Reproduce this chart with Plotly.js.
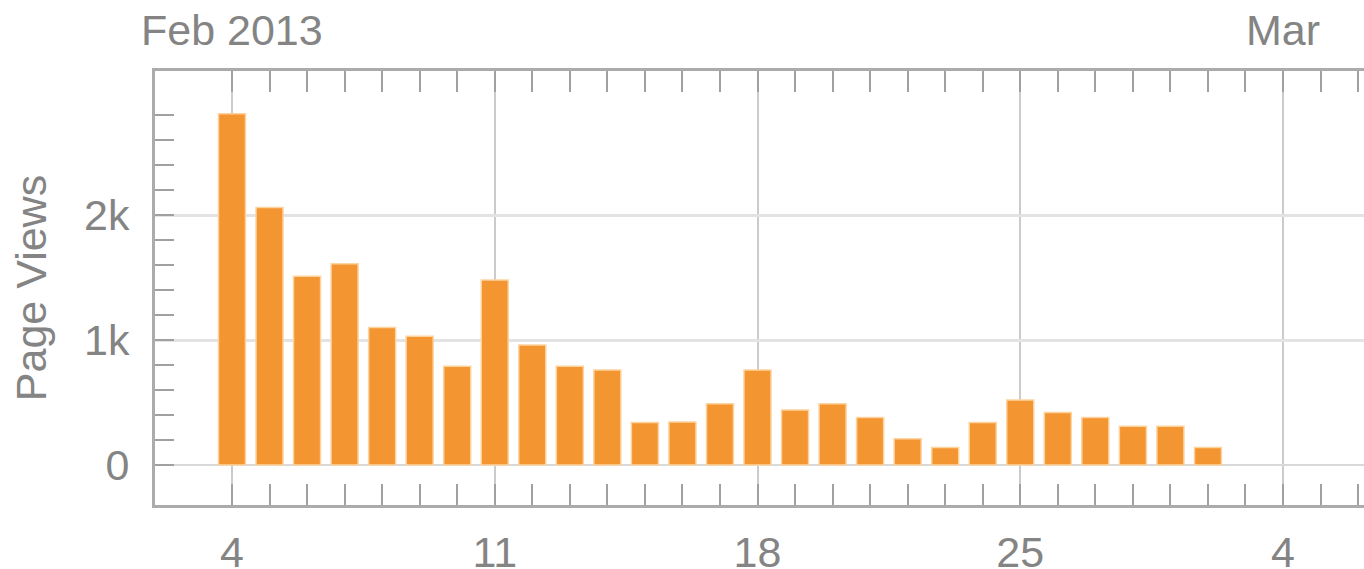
<!DOCTYPE html>
<html>
<head>
<meta charset="utf-8">
<script src="https://cdn.plot.ly/plotly-3.0.1.min.js"></script>
<style>
html, body { margin: 0; padding: 0; overflow: hidden; background: #ffffff; }
#chart { width: 1400px; height: 569px; }
</style>
</head>
<body>
<div id="chart"></div>
<script>
// Data
const dates = [
  '2013-02-04','2013-02-05','2013-02-06','2013-02-07','2013-02-08','2013-02-09','2013-02-10',
  '2013-02-11','2013-02-12','2013-02-13','2013-02-14','2013-02-15','2013-02-16','2013-02-17',
  '2013-02-18','2013-02-19','2013-02-20','2013-02-21','2013-02-22','2013-02-23','2013-02-24',
  '2013-02-25','2013-02-26','2013-02-27','2013-02-28','2013-03-01','2013-03-02'
];
const pageViews = [
  2810, 2060, 1510, 1610, 1100, 1030, 790,
  1480, 960, 790, 760, 340, 345, 490,
  760, 440, 490, 380, 210, 140, 340,
  520, 420, 380, 310, 310, 140
];
const monthLabels = ['Feb 2013', 'Mar'];
const monthLabelDates = ['2013-02-04', '2013-03-04'];
const yTickVals = [0, 1000, 2000];
const yTickText = ['0', '1k', '2k'];
const yMinorTickVals = [0, 200, 400, 600, 800, 1000, 1200, 1400, 1600, 1800, 2000, 2200, 2400, 2600, 2800];

const DAY = 86400000;
// daily minor tick positions from Feb 4 to Mar 6 (axis decoration, not data)
const xMinorTickVals = [];
for (let t = Date.UTC(2013, 1, 4); t <= Date.UTC(2013, 2, 6); t += DAY) {
  xMinorTickVals.push(new Date(t).toISOString().slice(0, 10));
}

const textColor = '#848484';
const fontFamily = '"Liberation Sans", Arial, Helvetica, sans-serif';
const fs = 43;

const trace = {
  type: 'bar',
  x: dates,
  y: pageViews,
  width: 0.72 * DAY,
  marker: { color: '#f39530', line: { color: '#fdd3a0', width: 1.5 } },
  hoverinfo: 'x+y'
};

const annotations = monthLabels.map((t, i) => ({
  text: t,
  x: monthLabelDates[i],
  xref: 'x',
  y: 1,
  yref: 'paper',
  yanchor: 'bottom',
  xanchor: 'center',
  yshift: 15,
  showarrow: false,
  font: { family: fontFamily, size: fs, color: textColor }
}));

const layout = {
  width: 1400,
  height: 569,
  margin: { l: 155, r: 20, t: 71, b: 64 },
  paper_bgcolor: '#ffffff',
  plot_bgcolor: '#ffffff',
  showlegend: false,
  font: { family: fontFamily, size: fs, color: textColor },
  xaxis: {
    type: 'date',
    range: ['2013-02-01 22:47', '2013-03-06 14:00'],
    tick0: '2013-02-04',
    dtick: 7 * DAY,
    tickformat: '%-d',
    ticks: 'inside',
    ticklen: 21,
    tickwidth: 2,
    tickcolor: '#a0a0a0',
    ticklabelstandoff: 7,
    minor: { tickmode: 'array', tickvals: xMinorTickVals, ticks: 'inside', ticklen: 21, tickwidth: 2, tickcolor: '#a0a0a0', showgrid: false },
    showgrid: true,
    gridcolor: '#cbcbcb',
    gridwidth: 2,
    showline: true,
    linecolor: '#ababab',
    linewidth: 3,
    mirror: 'ticks',
    zeroline: false,
    tickfont: { family: fontFamily, size: fs, color: textColor }
  },
  yaxis: {
    range: [-320, 3152],
    tickvals: yTickVals,
    ticktext: yTickText,
    ticks: 'inside',
    ticklen: 19,
    tickwidth: 2,
    tickcolor: '#a0a0a0',
    ticklabelstandoff: 14,
    minor: { tickmode: 'array', tickvals: yMinorTickVals, ticks: 'inside', ticklen: 19, tickwidth: 2, tickcolor: '#a0a0a0', showgrid: false },
    showgrid: true,
    gridcolor: '#e3e3e3',
    gridwidth: 3,
    zeroline: true,
    zerolinecolor: '#d9d9d9',
    zerolinewidth: 2,
    showline: true,
    linecolor: '#ababab',
    linewidth: 3,
    tickfont: { family: fontFamily, size: fs, color: textColor },
    title: { text: 'Page Views', standoff: 24, font: { family: fontFamily, size: fs, color: textColor } }
  },
  annotations: annotations,
  bargap: 0
};

Plotly.newPlot('chart', [trace], layout, { displayModeBar: false, staticPlot: true });
</script>
</body>
</html>
